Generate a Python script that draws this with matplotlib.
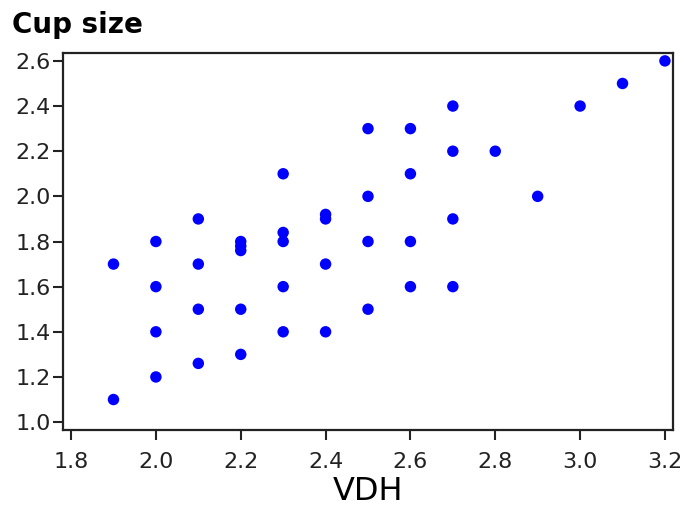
import matplotlib

matplotlib.use("Agg")

import matplotlib.pyplot as plt

vdh = [1.9, 1.9,
       2.0, 2.0, 2.0, 2.0,
       2.1, 2.1, 2.1, 2.1,
       2.2, 2.2, 2.2, 2.2, 2.2,
       2.3, 2.3, 2.3, 2.3, 2.3,
       2.4, 2.4, 2.4, 2.4,
       2.5, 2.5, 2.5, 2.5,
       2.6, 2.6, 2.6, 2.6,
       2.7, 2.7, 2.7, 2.7,
       2.8, 2.9, 3.0, 3.1, 3.2]
cup_size = [1.7, 1.1,
            1.8, 1.6, 1.4, 1.2,
            1.9, 1.7, 1.5, 1.26,
            1.8, 1.78, 1.76, 1.5, 1.3,
            2.1, 1.84, 1.8, 1.6, 1.4,
            1.92, 1.9, 1.7, 1.4,
            2.3, 2.0, 1.8, 1.5,
            2.3, 2.1, 1.8, 1.6,
            2.4, 2.2, 1.9, 1.6,
            2.2, 2.0, 2.4, 2.5, 2.6]

x_ticks = [1.8, 2.0, 2.2, 2.4, 2.6, 2.8, 3.0, 3.2]
y_ticks = [1.0, 1.2, 1.4, 1.6, 1.8, 2.0, 2.2, 2.4, 2.6]

plt.rcParams["font.family"] = ["DejaVu Sans"]

fig = plt.figure(figsize=(6.84, 5.08), dpi=100)
ax = fig.add_axes([63 / 684, 1 - 430 / 508, 610 / 684, 377 / 508])
ax.scatter(vdh, cup_size, s=68, color="#0000ff", edgecolors="none", zorder=3)

ax.set_xlim(1.781, 3.219)
ax.set_ylim(0.965, 2.635)
ax.set_xticks(x_ticks)
ax.set_xticklabels([f"{v:.1f}" for v in x_ticks])
ax.set_yticks(y_ticks)
ax.set_yticklabels([f"{v:.1f}" for v in y_ticks])
ax.tick_params(axis="both", length=7, width=1.5, labelsize=16, color="#222222", labelcolor="#222222", pad=2)
ax.tick_params(axis="x", pad=9)
for sp in ax.spines.values():
    sp.set_linewidth(1.6)
    sp.set_color("#222222")

ax.set_xlabel("VDH", fontsize=23, labelpad=3)
fig.text(12 / 684, 1 - 25 / 508, "Cup size", fontsize=20, fontweight="bold", va="center", ha="left")

fig.savefig("out.png", dpi=100)
